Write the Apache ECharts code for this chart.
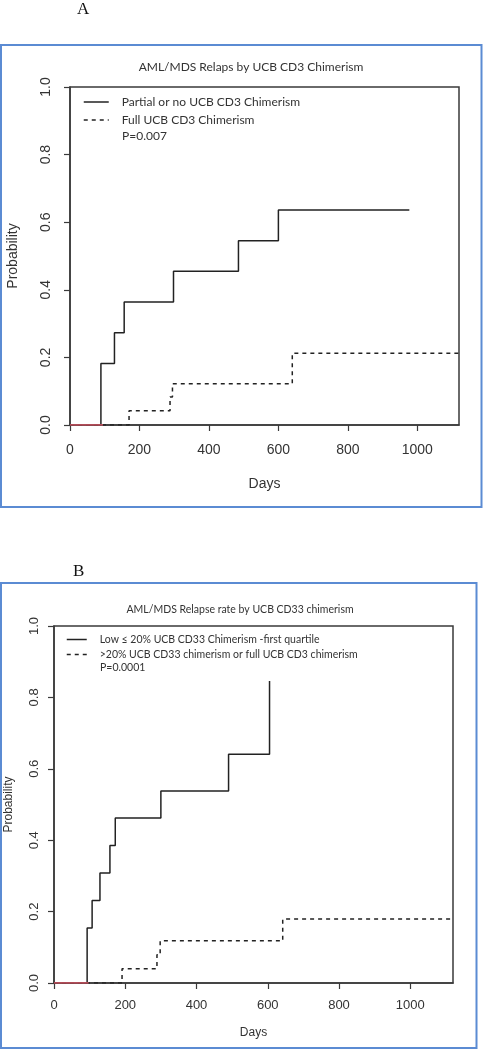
<!DOCTYPE html>
<html>
<head>
<meta charset="utf-8">
<script src="https://cdn.jsdelivr.net/npm/echarts@6/dist/echarts.min.js"></script>
<style>
html,body{margin:0;padding:0;background:#fff;}
#c{width:483px;height:1050px;}
</style>
</head>
<body>
<div id="c"></div>
<script>
// ---- Data ----
const xTicks = [0, 200, 400, 600, 800, 1000];
const yTicks = [0, 0.2, 0.4, 0.6, 0.8, 1.0];

// Panel A
const titleA = "AML/MDS Relaps by UCB CD3 Chimerism";
const nameA1 = "Partial or no UCB CD3 Chimerism";
const nameA2 = "Full UCB CD3 Chimerism";
const pA = "P=0.007";
const solidA = [[0,0],[89,0.182],[128,0.273],[156,0.364],[298,0.455],[485,0.545],[600,0.636],[977,0.636]];
const dashedA = [[0,0],[170,0.042],[288,0.083],[295,0.122],[640,0.212],[1120,0.212]];
const redA = [[0,0],[95,0]];

// Panel B
const titleB = "AML/MDS Relapse rate by UCB CD33 chimerism";
const nameB1 = "Low \u2264 20% UCB CD33 Chimerism -first quartile";
const nameB2 = ">20% UCB CD33 chimerism or full UCB CD3 chimerism";
const pB = "P=0.0001";
const solidB = [[0,0],[93,0.154],[107,0.231],[129,0.308],[157,0.385],[172,0.462],[300,0.538],[490,0.641],[605,0.846]];
const dashedB = [[0,0],[191,0.040],[289,0.079],[298,0.118],[642,0.179],[1120,0.179]];
const redB = [[0,0],[97,0]];

const xMax = 1120;

// ---- Styles ----
const axisColor = '#3a3a3a';
const txt = '#333';
const sansTick = 'Liberation Sans';
const uiFont = 'Lato';

function xAxisCfg(gi, fs, nameFs, margin, nameGap) {
  return {
    gridIndex: gi, type: 'value', min: 0, max: xMax, interval: 200,
    name: 'Days', nameLocation: 'middle', nameGap: nameGap,
    nameTextStyle: {fontFamily: sansTick, fontSize: nameFs, color: txt},
    axisLine: {show: true, lineStyle: {color: axisColor, width: 1.5}},
    axisTick: {show: true, inside: false, length: 6, customValues: xTicks, lineStyle: {color: axisColor, width: 1.2}},
    axisLabel: {customValues: xTicks, margin: margin, fontFamily: sansTick, fontSize: fs, color: txt,
      formatter: v => String(v)},
    splitLine: {show: false}
  };
}
function yAxisCfg(gi, fs, nameFs, margin, nameGap) {
  return {
    gridIndex: gi, type: 'value', min: 0, max: 1, interval: 0.2,
    name: 'Probability', nameLocation: 'middle', nameGap: nameGap, nameRotate: 90,
    nameTextStyle: {fontFamily: sansTick, fontSize: nameFs, color: txt},
    axisLine: {show: true, lineStyle: {color: axisColor, width: 1.5}},
    axisTick: {show: true, inside: false, length: 6, customValues: yTicks, lineStyle: {color: axisColor, width: 1.2}},
    axisLabel: {customValues: yTicks, rotate: 90, margin: margin, fontFamily: sansTick, fontSize: fs, color: txt,
      formatter: v => v.toFixed(1)},
    splitLine: {show: false}
  };
}
function stepSeries(name, data, gi, dashed) {
  return {
    name: name, type: 'line', step: 'end', data: data,
    xAxisIndex: gi, yAxisIndex: gi, symbol: 'none', silent: true,
    lineStyle: {color: '#222', width: 1.5, type: dashed ? [4, 4] : 'solid'},
    itemStyle: {color: '#222'}, z: 3
  };
}
function redSeries(data, gi) {
  return {
    type: 'line', data: data, xAxisIndex: gi, yAxisIndex: gi, symbol: 'none', silent: true,
    lineStyle: {color: '#e25a6a', width: 1.5}, z: 4
  };
}

const chart = echarts.init(document.getElementById('c'), null, {renderer: 'canvas'});
chart.setOption({
  animation: false,
  backgroundColor: '#fff',
  title: [
    {text: titleA, left: 246, top: 56, textAlign: 'center',
     textStyle: {fontFamily: uiFont, fontSize: 12, fontWeight: 'normal', color: txt}},
    {text: titleB, left: 235, top: 599, textAlign: 'center',
     textStyle: {fontFamily: uiFont, fontSize: 10.5, fontWeight: 'normal', color: txt}}
  ],
  grid: [
    {left: 70, top: 87, width: 389, height: 338, outerBoundsMode: 'none', containLabel: false,
     show: true, borderColor: axisColor, borderWidth: 1.5, backgroundColor: 'transparent'},
    {left: 54, top: 626, width: 399, height: 357, outerBoundsMode: 'none', containLabel: false,
     show: true, borderColor: axisColor, borderWidth: 1.5, backgroundColor: 'transparent'}
  ],
  legend: [
    {data: [nameA1, nameA2], orient: 'vertical', left: 83, top: 96, itemWidth: 25, itemHeight: 10, itemGap: 6,
     itemStyle: {opacity: 0}, lineStyle: {width: 1.5},
     textStyle: {fontFamily: uiFont, fontSize: 12, color: txt, padding: [0,0,0,8]}, selectedMode: false, padding: 0},
    {data: [nameB1, nameB2], orient: 'vertical', left: 66, top: 634, itemWidth: 20, itemHeight: 10, itemGap: 4,
     itemStyle: {opacity: 0}, lineStyle: {width: 1.5},
     textStyle: {fontFamily: uiFont, fontSize: 10.5, color: txt, padding: [0,0,0,8]}, selectedMode: false, padding: 0}
  ],
  xAxis: [xAxisCfg(0, 14, 14, 18, 52), xAxisCfg(1, 13, 12, 16, 44)],
  yAxis: [yAxisCfg(0, 14, 14, 17, 50), yAxisCfg(1, 13, 12, 13, 39)],
  series: [
    stepSeries(nameA1, solidA, 0, false),
    stepSeries(nameA2, dashedA, 0, true),
    redSeries(redA, 0),
    stepSeries(nameB1, solidB, 1, false),
    stepSeries(nameB2, dashedB, 1, true),
    redSeries(redB, 1)
  ],
  graphic: [
    {type: 'rect', shape: {x: 1, y: 45, width: 480.5, height: 462}, style: {fill: 'none', stroke: '#5b8bd3', lineWidth: 2}, silent: true},
    {type: 'rect', shape: {x: 1, y: 583, width: 475.5, height: 465}, style: {fill: 'none', stroke: '#5b8bd3', lineWidth: 2}, silent: true},
    {type: 'text', left: 77, top: 1, style: {text: 'A', font: '17px "Liberation Serif"', fill: '#111'}},
    {type: 'text', left: 73, top: 563, style: {text: 'B', font: '17px "Liberation Serif"', fill: '#111'}},
    {type: 'text', left: 122, top: 130, style: {text: pA, font: '12px Lato', fill: txt}},
    {type: 'text', left: 100, top: 662, style: {text: pB, font: '10.5px Lato', fill: txt}}
  ]
});
</script>
</body>
</html>
